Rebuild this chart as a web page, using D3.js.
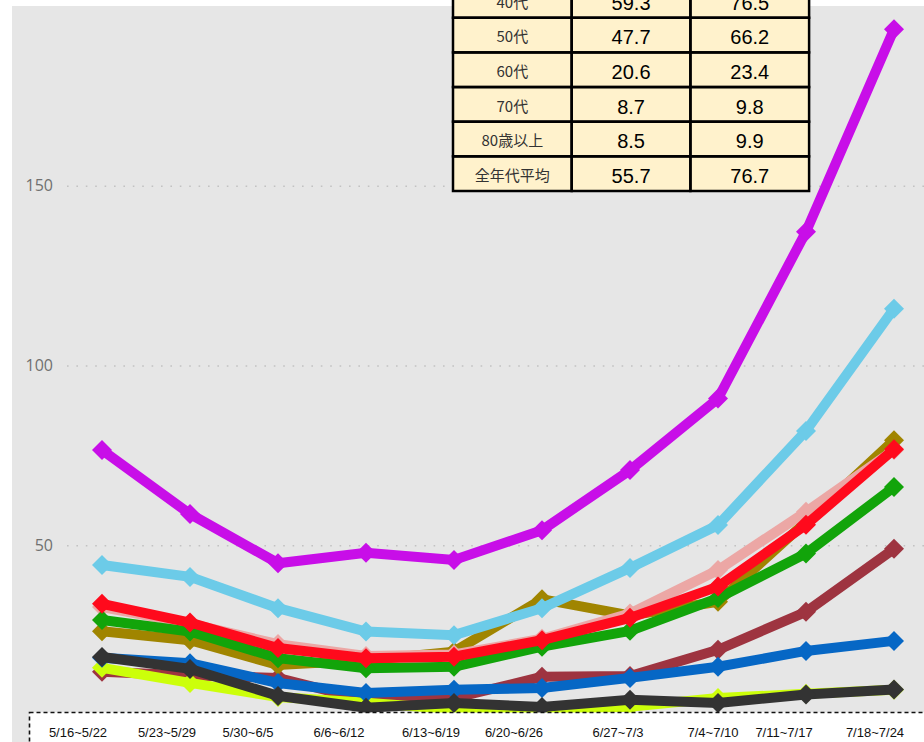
<!DOCTYPE html>
<html>
<head>
<meta charset="utf-8">
<script src="https://cdn.jsdelivr.net/npm/d3@7"></script>
<style>
  html, body { margin: 0; padding: 0; background: #ffffff; }
  svg { display: block; }
</style>
</head>
<body>
<div id="chart"></div>
<script>
// ---------- data ----------
const categories = ["5/16~5/22","5/23~5/29","5/30~6/5","6/6~6/12","6/13~6/19","6/20~6/26","6/27~7/3","7/4~7/10","7/11~7/17","7/18~7/24"];

const under10  = [14.8, 13.8, 13.1, 6.9, 7.5, 13.4, 13.6, 20.9, 31.5, 49.0];
const teens    = [26.1, 23.6, 16.7, 18.0, 20.4, 35.0, 30.5, 34.3, 56.5, 79.2];
const twenties = [76.5, 58.7, 45.0, 47.9, 45.9, 54.2, 70.9, 90.8, 137.2, 193.5];
const thirties = [44.5, 41.2, 32.5, 26.0, 25.0, 32.5, 43.7, 55.6, 81.8, 115.8];
const forties  = [32.8, 28.2, 22.5, 19.2, 19.6, 24.0, 31.0, 43.1, 59.3, 76.5];
const fifties  = [29.2, 26.0, 18.6, 15.8, 16.2, 21.8, 26.2, 35.3, 47.7, 66.2];
const sixties  = [18.7, 17.2, 11.7, 8.9, 9.8, 10.3, 13.1, 16.2, 20.6, 23.4];
const seventies= [15.9, 11.7, 7.8, 6.2, 4.4, 4.4, 5.1, 7.5, 8.7, 9.8];
const over80   = [18.9, 15.6, 8.1, 4.8, 6.1, 5.0, 7.0, 6.1, 8.5, 9.9];
const average  = [33.7, 28.5, 21.4, 18.6, 19.0, 23.6, 29.8, 38.5, 55.7, 76.7];

const yTicks = [50, 100, 150];

const tableLabels = ["40代","50代","60代","70代","80歳以上","全年代平均"];
const tableWeek1  = ["59.3","47.7","20.6","8.7","8.5","55.7"];
const tableWeek2  = ["76.5","66.2","23.4","9.8","9.9","76.7"];

// ---------- series (draw order bottom -> top) ----------
const series = [
  { name: "10歳未満", values: under10,   color: "#9e3440" },
  { name: "10代",     values: teens,     color: "#a08500" },
  { name: "30代",     values: thirties,  color: "#6ccbe8" },
  { name: "40代",     values: forties,   color: "#eca7a5" },
  { name: "50代",     values: fifties,   color: "#12a40a" },
  { name: "70代",     values: seventies, color: "#ccff0a" },
  { name: "60代",     values: sixties,   color: "#0667c5" },
  { name: "80歳以上", values: over80,    color: "#333333" },
  { name: "全年代平均", values: average, color: "#ff0a1c" },
  { name: "20代",     values: twenties,  color: "#c80ee8" }
];

// ---------- layout ----------
const W = 924, H = 742;
const svg = d3.select("#chart").append("svg").attr("width", W).attr("height", H);

// panel background
svg.append("rect").attr("x", 12).attr("y", 6).attr("width", W - 12).attr("height", H - 6).attr("fill", "#e6e6e6");

const x = d3.scalePoint().domain(categories).range([102, 894]);
const y = d3.scaleLinear().domain([0, 150]).range([725, 185.75]);

// gridlines
const grid = svg.append("g").attr("transform", "translate(67,0)")
  .call(d3.axisLeft(y).tickValues(yTicks).tickSize(-(W - 67)).tickFormat(""));
grid.select(".domain").remove();
grid.selectAll(".tick line")
  .attr("stroke", "#c2c2c2").attr("stroke-width", 1.6).attr("stroke-dasharray", "1.6 7.8");

// y axis labels
const yAxis = svg.append("g").attr("transform", "translate(53,0)")
  .call(d3.axisLeft(y).tickValues(yTicks).tickSize(0).tickPadding(0));
yAxis.select(".domain").remove();
yAxis.selectAll("text")
  .attr("font-family", "'Open Sans', sans-serif").attr("font-size", 16).attr("fill", "#707070");

// lines & markers
const line = d3.line().x((d, i) => x(categories[i])).y(d => y(d));
const diamond = d3.symbol().type(d3.symbolSquare).size(200);

series.forEach(s => {
  const g = svg.append("g").attr("class", "series");
  g.append("path").datum(s.values)
    .attr("d", line)
    .attr("fill", "none")
    .attr("stroke", s.color)
    .attr("stroke-width", 10)
    .attr("stroke-linejoin", "miter");
  g.selectAll("path.m").data(s.values).join("path")
    .attr("class", "m")
    .attr("d", diamond)
    .attr("transform", (d, i) => `translate(${x(categories[i])},${y(d)}) rotate(45)`)
    .attr("fill", s.color);
});

// x label box (dashed)
svg.append("rect").attr("x", 29.5).attr("y", 712.5).attr("width", W).attr("height", 60)
  .attr("fill", "#ffffff").attr("stroke", "#111").attr("stroke-width", 1.6).attr("stroke-dasharray", "4 3");

const labelX = d3.scaleOrdinal().domain(categories).range([78, 167, 248, 339, 431, 514, 618, 713, 784, 875]);
svg.append("g").selectAll("text").data(categories).join("text")
  .attr("x", d => labelX(d)).attr("y", 737)
  .attr("text-anchor", "middle")
  .attr("font-family", "'Liberation Sans', Arial, sans-serif")
  .attr("font-size", 13).attr("fill", "#111")
  .text(d => d);

// ---------- table ----------
const tx0 = 453, colW = 118.7, rowH = 34.65, tyBottom = 191;
const ty0 = tyBottom - rowH * tableLabels.length;
const tbl = svg.append("g");
tbl.append("rect").attr("x", tx0).attr("y", ty0).attr("width", colW * 3).attr("height", rowH * tableLabels.length)
  .attr("fill", "#fff2cc");
tableLabels.forEach((lab, i) => {
  const cy = ty0 + rowH * i + rowH / 2;
  [lab, tableWeek1[i], tableWeek2[i]].forEach((t, c) => {
    tbl.append("rect").attr("x", tx0 + colW * c).attr("y", ty0 + rowH * i)
      .attr("width", colW).attr("height", rowH)
      .attr("fill", "none").attr("stroke", "#000").attr("stroke-width", 2.5);
    const fs = c === 0 ? 15 : 20;
    tbl.append("text")
      .attr("x", tx0 + colW * c + colW / 2)
      .attr("y", cy + fs * 0.36 + 2)
      .attr("text-anchor", "middle")
      .attr("font-family", c === 0 ? "'Noto Sans CJK JP', sans-serif" : "'Liberation Sans', Arial, sans-serif")
      .attr("font-size", fs)
      .attr("fill", c === 0 ? "#333" : "#000")
      .text(t);
  });
});
</script>
</body>
</html>
